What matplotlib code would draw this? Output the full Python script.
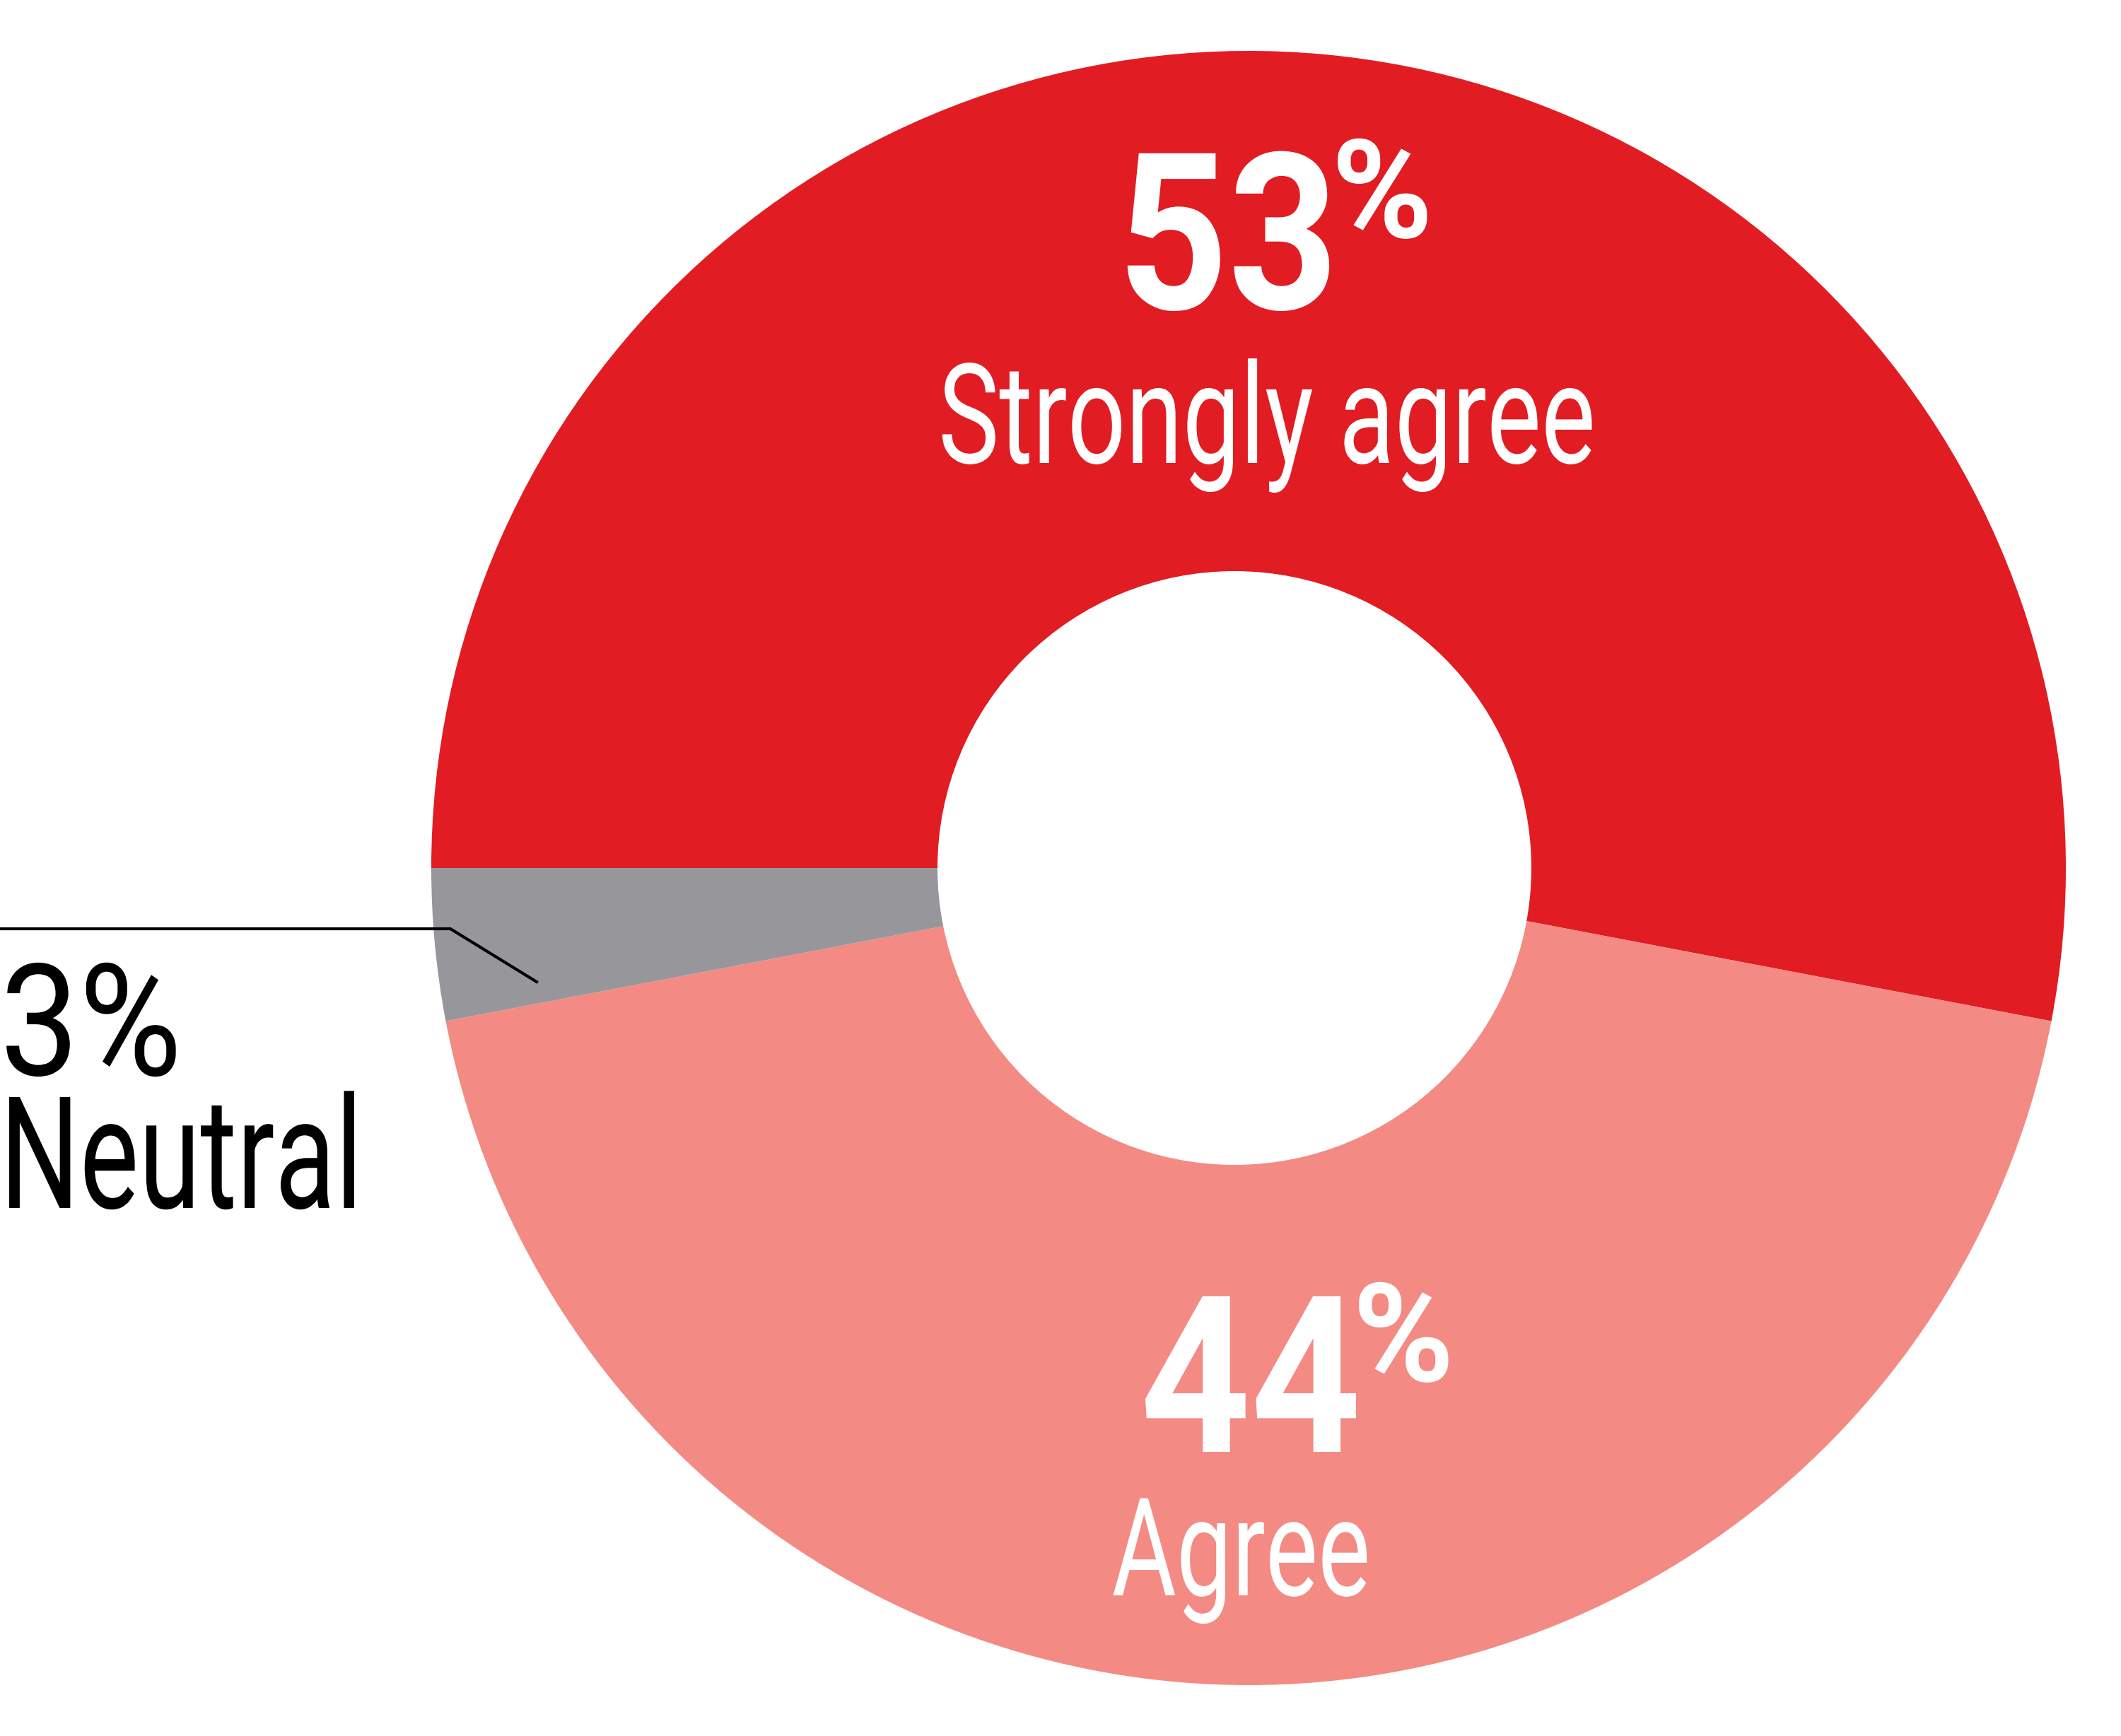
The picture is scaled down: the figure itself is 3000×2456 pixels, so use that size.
import matplotlib
matplotlib.use("Agg")
import matplotlib.pyplot as plt
from matplotlib.patches import Circle
from matplotlib.patheffects import AbstractPathEffect
from matplotlib.transforms import Affine2D

plt.rcParams.update({
    'figure.dpi': 100,
    'figure.facecolor': 'white',
    'savefig.facecolor': 'white',
    'font.family': ['Roboto', 'DejaVu Sans'],
})

# data
categories = ["Strongly agree", "Agree", "Neutral"]
shares = [53, 44, 3]
colors = ["#E11C23", "#F48A84", "#97979B"]

W, H = 3000, 2456  # canvas in pixels


def img_y(y):
    # picture rows are counted from the top
    return H - y


class Squeeze(AbstractPathEffect):
    """Squash glyphs horizontally (condensed look), around centre or left edge."""

    def __init__(self, sx, anchor='center'):
        super().__init__()
        self.sx = sx
        self.anchor = anchor

    def draw_path(self, renderer, gc, tpath, affine, rgbFace=None):
        if self.anchor == 'center':
            ext = tpath.get_extents()
            cx = (ext.x0 + ext.x1) / 2
        else:
            cx = 0
        squeeze = Affine2D().translate(-cx, 0).scale(self.sx, 1).translate(cx, 0)
        renderer.draw_path(gc, tpath, squeeze + affine, rgbFace)


fig = plt.figure(figsize=(W / 100, H / 100))
ax = fig.add_axes([0, 0, 1, 1])

# donut: full pie + white hole (hole sits a bit left of the pie centre)
outer_c = (1766, img_y(1228))
outer_r = 1156
hole_c = (1746, img_y(1228))
hole_r = 420

ax.pie(shares, colors=colors, startangle=180, counterclock=False,
       radius=outer_r, center=outer_c, frame=True,
       wedgeprops=dict(linewidth=0, antialiased=True))
ax.add_patch(Circle(hole_c, hole_r, facecolor="white", edgecolor="none", zorder=5))

ax.set_xlim(0, W)
ax.set_ylim(0, H)
ax.set_aspect('equal')
ax.axis('off')


def label(x, y, s, size, weight, color, sx, ha='center'):
    ax.text(x, img_y(y), s, fontsize=size, fontweight=weight, color=color,
            ha=ha, va='baseline', zorder=10, path_effects=[Squeeze(sx, ha)])


# Strongly agree
label(1737, 437, f"{shares[0]}", 223, 'bold', 'white', 0.88)
label(1955, 336, "%", 140, 'bold', 'white', 1.0)
label(1792, 655, categories[0], 142, 'normal', 'white', 0.735)

# Agree
label(1769, 2054, f"{shares[1]}", 223, 'bold', 'white', 0.88)
label(1985, 1954, "%", 140, 'bold', 'white', 1.0)
label(1756, 2257, categories[1], 139, 'normal', 'white', 0.725)

# Neutral, outside with a leader line
label(0, 1521, f"{shares[2]}%", 159, 'normal', 'black', 0.9, ha='left')
label(0, 1709, categories[2], 159, 'normal', 'black', 0.715, ha='left')

ax.plot([0, 637, 759], [img_y(1314), img_y(1314), img_y(1389)],
        color='black', linewidth=3.0, solid_joinstyle='miter', zorder=11)

plt.savefig("out.png", dpi=100)
